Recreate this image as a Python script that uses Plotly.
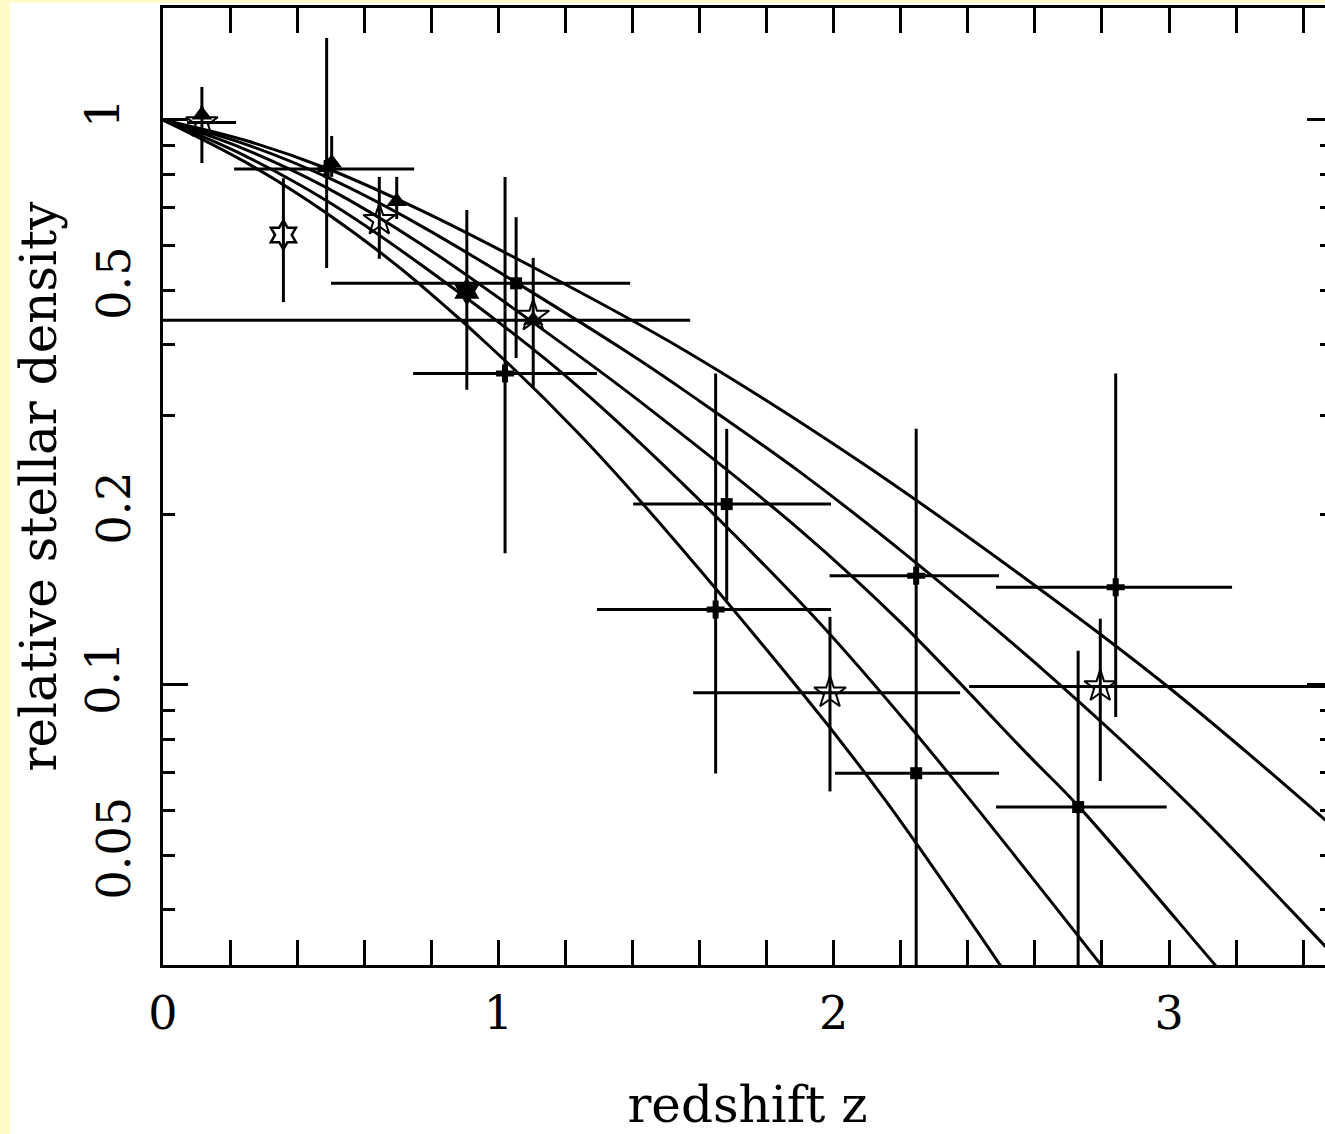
import plotly.graph_objects as go

# ---------------- data ----------------
# model curves (redshift z, relative stellar density)
curve_a_z = [0.0, 0.2446, 0.4891, 0.7665, 1.1542, 1.5509, 2.0668, 2.5857, 2.9884, 3.4656, 3.5]
curve_a_y = [1.0, 0.9205, 0.8206, 0.6931, 0.5290, 0.3925, 0.2512, 0.1522, 0.1002, 0.0577, 0.0553]

curve_b_z = [0.0, 0.2446, 0.4891, 0.7665, 1.3838, 1.6016, 1.8998, 2.1980, 2.6693, 3.0629, 3.4656, 3.5]
curve_b_y = [1.0, 0.9065, 0.7920, 0.6509, 0.3885, 0.3176, 0.2381, 0.1734, 0.1008, 0.0611, 0.0345, 0.0329]

curve_c_z = [0.0, 0.2446, 0.4891, 0.7665, 1.2437, 1.4316, 1.8998, 2.1980, 2.5857, 2.7289, 3.1375, 3.2121]
curve_c_y = [1.0, 0.8874, 0.7583, 0.6047, 0.3812, 0.3144, 0.1880, 0.1293, 0.07459, 0.0611, 0.03195, 0.02838]

curve_d_z = [0.0, 0.2446, 0.4891, 0.7665, 1.2437, 1.8998, 2.1980, 2.4068, 2.7975, 2.884]
curve_d_y = [1.0, 0.8639, 0.7190, 0.5559, 0.3350, 0.1402, 0.0885, 0.0626, 0.03195, 0.02747]

curve_e_z = [0.0, 0.2446, 0.4891, 0.7665, 1.2437, 1.8998, 2.1533, 2.4963, 2.5559]
curve_e_y = [1.0, 0.8429, 0.6830, 0.5115, 0.2770, 0.0978, 0.0626, 0.03195, 0.02827]

# open stars
star_z = [0.116, 0.645, 1.104, 1.989, 2.795]
star_y = [0.99, 0.665, 0.45, 0.0969, 0.0994]
star_zlo = [0.072, 0.645, 1.104, 1.581, 2.404]
star_zhi = [0.218, 0.645, 1.104, 2.377, 3.7]
star_ylo = [0.839, 0.568, 0.45, 0.0648, 0.0676]
star_yhi = [1.144, 0.793, 0.45, 0.132, 0.131]

# open hexagram
hexo_z = [0.359]
hexo_y = [0.626]
hexo_ylo = [0.476]
hexo_yhi = [0.789]

# filled hexagram
hexf_z = [0.906]
hexf_y = [0.497]
hexf_ylo = [0.333]
hexf_yhi = [0.693]

# filled triangles
tri_z = [0.116, 0.503, 0.697, 1.104]
tri_y = [1.02, 0.839, 0.717, 0.442]
tri_zlo = [0.116, 0.503, 0.697, 0.0]
tri_zhi = [0.116, 0.503, 0.697, 1.572]
tri_ylo = [1.02, 0.793, 0.668, 0.337]
tri_yhi = [1.02, 0.937, 0.793, 0.570]

# filled squares
sq_z = [1.053, 1.681, 2.246, 2.729]
sq_y = [0.514, 0.209, 0.0698, 0.0608]
sq_zlo = [0.501, 1.402, 2.004, 2.484]
sq_zhi = [1.393, 1.992, 2.493, 2.993]
sq_ylo = [0.379, 0.141, 0.0698, 0.02]
sq_yhi = [0.673, 0.284, 0.0698, 0.115]

# crosses
cr_z = [0.488, 1.02, 1.648, 2.246, 2.841]
cr_y = [0.819, 0.356, 0.136, 0.156, 0.149]
cr_zlo = [0.212, 0.746, 1.294, 1.988, 2.484]
cr_zhi = [0.749, 1.294, 1.992, 2.493, 3.188]
cr_ylo = [0.547, 0.171, 0.0697, 0.02, 0.0878]
cr_yhi = [1.397, 0.793, 0.356, 0.284, 0.356]

x_tick_vals = [0, 1, 2, 3]
y_major_vals = [0.1, 1]
y_major_text = ["0.1", "1"]
y_mid_vals = [0.05, 0.2, 0.5]
y_mid_text = ["0.05", "0.2", "0.5"]
y_minor_vals = [0.04, 0.06, 0.07, 0.08, 0.09, 0.3, 0.4, 0.6, 0.7, 0.8, 0.9]

# ---------------- figure ----------------
FONT = "DejaVu Serif"
fig = go.Figure()

for cz, cy in [(curve_a_z, curve_a_y), (curve_b_z, curve_b_y), (curve_c_z, curve_c_y),
               (curve_d_z, curve_d_y), (curve_e_z, curve_e_y)]:
    fig.add_trace(go.Scatter(x=cz, y=cy, mode="lines",
                             line=dict(color="black", width=3, shape="spline", smoothing=1.0),
                             showlegend=False, hoverinfo="skip"))


def add_points(z, y, zlo, zhi, ylo, yhi, symbol, size, lw=2):
    fig.add_trace(go.Scatter(
        x=z, y=y, mode="markers",
        marker=dict(symbol=symbol, size=size, color="black",
                    line=dict(color="black", width=lw)),
        error_x=dict(type="data", symmetric=False,
                     array=[h - v for h, v in zip(zhi, z)],
                     arrayminus=[v - l for l, v in zip(zlo, z)],
                     color="black", thickness=3, width=0),
        error_y=dict(type="data", symmetric=False,
                     array=[h - v for h, v in zip(yhi, y)],
                     arrayminus=[v - l for l, v in zip(ylo, y)],
                     color="black", thickness=3, width=0),
        showlegend=False, cliponaxis=True))


add_points(cr_z, cr_y, cr_zlo, cr_zhi, cr_ylo, cr_yhi, "cross", 15, 0)
add_points(sq_z, sq_y, sq_zlo, sq_zhi, sq_ylo, sq_yhi, "square", 12, 0)
add_points(tri_z, tri_y, tri_zlo, tri_zhi, tri_ylo, tri_yhi, "triangle-up", 18, 0)
add_points(star_z, star_y, star_zlo, star_zhi, star_ylo, star_yhi, "star-open", 24, 2)
add_points(hexo_z, hexo_y, hexo_z, hexo_z, hexo_ylo, hexo_yhi, "hexagram-open", 22, 2.5)
add_points(hexf_z, hexf_y, hexf_z, hexf_z, hexf_ylo, hexf_yhi, "hexagram", 22, 0)

# extra overlaid axis for the short labelled ticks
fig.add_trace(go.Scatter(x=[None], y=[None], yaxis="y2", showlegend=False))

tickfont = dict(family=FONT, size=46, color="black")
fig.update_layout(
    width=1332, height=1131,
    margin=dict(l=153, r=10, t=5, b=169, autoexpand=False),
    paper_bgcolor="white", plot_bgcolor="white",
    showlegend=False,
    xaxis=dict(range=[0, 3.486], showgrid=False, zeroline=False, automargin=False,
               showline=True, linecolor="black", linewidth=3, mirror="allticks",
               ticks="inside", ticklen=25, tickwidth=3, tickcolor="black",
               tickvals=x_tick_vals, ticktext=[str(v) for v in x_tick_vals],
               tickfont=tickfont, ticklabelstandoff=6,
               minor=dict(dtick=0.2, ticks="inside", ticklen=12, tickwidth=3,
                          tickcolor="black", showgrid=False),
               title=dict(text="redshift z", font=dict(family=FONT, size=50, color="black"),
                          standoff=81)),
    yaxis=dict(type="log", range=[-1.4956, 0.1982], showgrid=False, zeroline=False,
               automargin=False,
               showline=True, linecolor="black", linewidth=3, mirror="allticks",
               ticks="inside", ticklen=25, tickwidth=3, tickcolor="black",
               tickvals=y_major_vals, ticktext=y_major_text, tickangle=-90,
               tickfont=tickfont, ticklabelstandoff=23,
               minor=dict(tickvals=y_minor_vals, ticks="inside", ticklen=12, tickwidth=3,
                          tickcolor="black", showgrid=False),
               title=dict(text="relative stellar density",
                          font=dict(family=FONT, size=50, color="black"), standoff=28)),
    yaxis2=dict(type="log", range=[-1.4956, 0.1982], overlaying="y", side="left",
                automargin=False,
                showgrid=False, zeroline=False, showline=False, mirror="allticks",
                ticks="inside", ticklen=12, tickwidth=3, tickcolor="black",
                tickvals=y_mid_vals, ticktext=y_mid_text, tickangle=-90,
                tickfont=tickfont, ticklabelstandoff=23),
)

post = ("document.body.style.margin='3px 0 0 10px';"
        "document.body.style.background='#fffbc8';"
        "document.body.style.overflow='hidden';"
        "document.documentElement.style.overflow='hidden';")
fig.write_html("out.html", post_script=post)
